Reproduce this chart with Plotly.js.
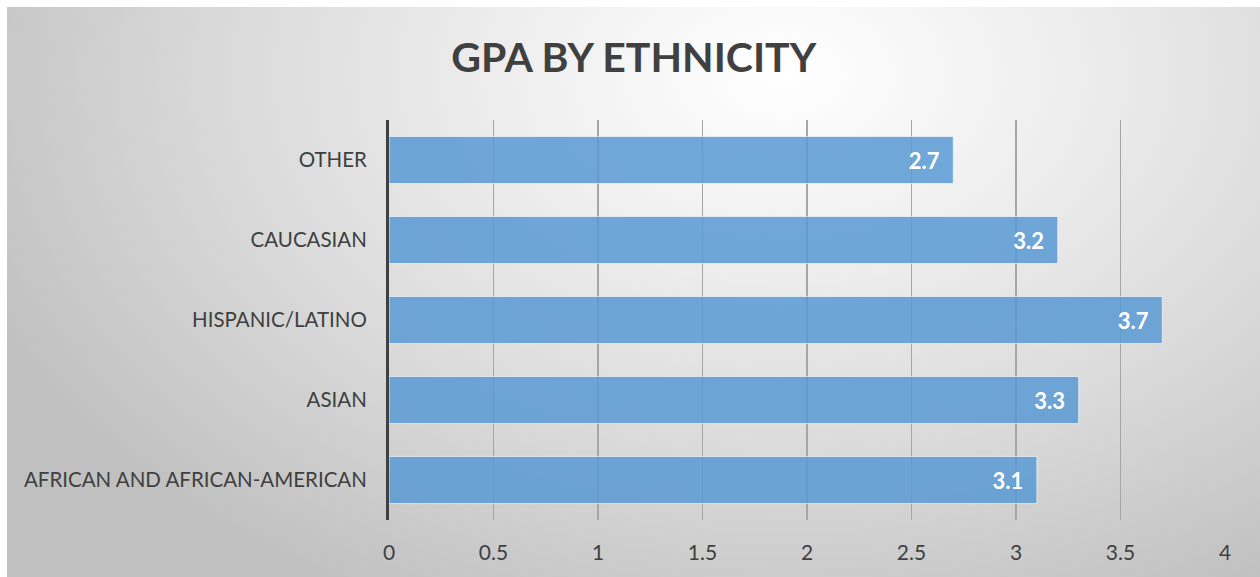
<!DOCTYPE html>
<html>
<head>
<meta charset="utf-8">
<script src="https://cdn.plot.ly/plotly-3.0.1.min.js"></script>
<style>
  html, body { margin: 0; padding: 0; background: #ffffff; }
  #wrap { position: absolute; left: 0; top: 0; width: 1260px; height: 577px; background: #ffffff; }
  #bg { position: absolute; left: 7px; top: 7px; width: 1253px; height: 570px;
        background: radial-gradient(ellipse 70% 105% at 62% 12%, #ffffff 0%, #efefef 30%, #d9d9d9 65%, #c0c0c0 100%); }
  #chart { position: absolute; left: 0; top: 0; width: 1260px; height: 577px; }
</style>
</head>
<body>
<div id="wrap"><div id="bg"></div><div id="chart"></div></div>
<script>
const categories = ["AFRICAN AND AFRICAN-AMERICAN", "ASIAN", "HISPANIC/LATINO", "CAUCASIAN", "OTHER"];
const gpaValues = [3.1, 3.3, 3.7, 3.2, 2.7];
const xTickValues = [0, 0.5, 1, 1.5, 2, 2.5, 3, 3.5, 4];
const xTickLabels = ["0", "0.5", "1", "1.5", "2", "2.5", "3", "3.5", "4"];
const chartTitle = "GPA BY ETHNICITY";

const FONT = "Lato, 'Open Sans', sans-serif";

const trace = {
  type: "bar",
  orientation: "h",
  x: gpaValues,
  y: categories,
  text: gpaValues.map(v => v.toFixed(1) + "\u00a0\u00a0"),
  textposition: "inside",
  insidetextanchor: "end",
  textangle: 0,
  constraintext: "none",
  textfont: { family: FONT, size: 22, color: "#ffffff", weight: "bold" },
  marker: { color: "#5B9BD5", opacity: 0.86, line: { color: "rgba(255,255,255,0.7)", width: 1 } },
  hoverinfo: "none",
  cliponaxis: false
};

const layout = {
  width: 1260,
  height: 577,
  paper_bgcolor: "rgba(0,0,0,0)",
  plot_bgcolor: "rgba(0,0,0,0)",
  margin: { l: 389, r: 35, t: 120, b: 57, pad: 0 },
  showlegend: false,
  bargap: 0.41,
  title: {
    text: "<b>" + chartTitle + "</b>",
    font: { family: FONT, size: 41, color: "#404040" },
    x: 0.503, xanchor: "center",
    y: 0.9, yref: "container", yanchor: "middle",
    automargin: false
  },
  xaxis: {
    range: [0, 4],
    tickvals: xTickValues,
    ticktext: xTickLabels,
    showgrid: true,
    gridcolor: "#a6a6a6",
    gridwidth: 1.5,
    zeroline: false,
    showline: false,
    ticks: "",
    tickfont: { family: FONT, size: 21, color: "#404040" },
    ticklabelstandoff: 18,
    fixedrange: true
  },
  yaxis: {
    type: "category",
    categoryorder: "array",
    categoryarray: categories,
    showgrid: false,
    zeroline: false,
    showline: true,
    linecolor: "#404040",
    linewidth: 3,
    ticks: "",
    tickfont: { family: FONT, size: 20.5, color: "#404040" },
    ticklabelstandoff: 15,
    fixedrange: true
  }
};

Plotly.newPlot("chart", [trace], layout, { staticPlot: true, displayModeBar: false });
</script>
</body>
</html>
